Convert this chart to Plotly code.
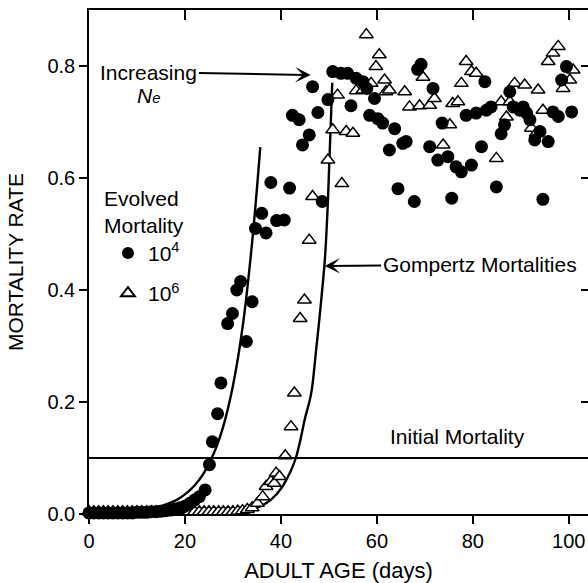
import plotly.graph_objects as go

# ---------------- data ----------------
age_1e4 = [0, 1, 2, 3, 4, 5, 6, 7, 8, 9, 10, 11, 12, 13, 14, 15, 16, 17, 18, 19, 20, 21, 22, 23,
           24.2, 25.1, 25.7, 26.8, 27.5, 28.9, 29.9, 30.8, 31.6, 32.8, 34.0, 34.7, 36.0, 36.9,
           37.9, 39.1, 40.7, 41.8, 42.4, 43.8, 44.5, 45.9, 46.6, 47.7, 48.6, 49.8, 50.8, 52.5,
           53.9, 54.6, 55.7, 57.1, 57.9, 58.5, 59.5, 60.2, 61.2, 62.6, 63.7, 64.4, 65.4, 66.1,
           67.8, 68.5, 69.2, 71.0, 71.7, 72.7, 73.6, 74.8, 75.6, 76.5, 77.6, 78.6, 79.7, 80.7,
           81.8, 82.5, 82.8, 83.8, 84.9, 85.9, 86.6, 87.7, 88.4, 89.8, 90.5, 91.2, 91.9, 92.9,
           94.0, 94.6, 95.7, 96.7, 97.8, 98.5, 99.5, 100.6]
mort_1e4 = [0.002, 0.002, 0.002, 0.002, 0.002, 0.002, 0.002, 0.002, 0.002, 0.002, 0.003, 0.003,
            0.003, 0.004, 0.004, 0.005, 0.006, 0.007, 0.009, 0.011, 0.014, 0.019, 0.025, 0.031,
            0.043, 0.088, 0.129, 0.179, 0.234, 0.340, 0.358, 0.400, 0.415, 0.308, 0.379, 0.510,
            0.537, 0.502, 0.592, 0.524, 0.525, 0.582, 0.712, 0.704, 0.659, 0.677, 0.763, 0.717,
            0.558, 0.740, 0.790, 0.787, 0.787, 0.729, 0.778, 0.772, 0.760, 0.712, 0.742, 0.706,
            0.698, 0.650, 0.688, 0.581, 0.662, 0.665, 0.558, 0.794, 0.803, 0.656, 0.760, 0.632,
            0.698, 0.638, 0.564, 0.620, 0.611, 0.712, 0.623, 0.716, 0.656, 0.772, 0.721, 0.727,
            0.584, 0.679, 0.695, 0.754, 0.727, 0.721, 0.727, 0.716, 0.704, 0.668, 0.683, 0.562,
            0.665, 0.718, 0.710, 0.775, 0.799, 0.718]

age_1e6 = [0, 1, 2, 3, 4, 5, 6, 7, 8, 9, 10, 11, 12, 13, 14, 15, 16, 17, 18, 19, 20, 21, 22, 23,
           24, 25, 26, 27, 28, 29, 30, 31, 32, 33, 34,
           35.1, 36.2, 36.9, 37.9, 38.6, 39.0, 39.7, 40.9, 42.1, 42.8, 44.0, 44.9, 45.9, 46.6,
           49.8, 50.8, 51.8, 52.7, 53.6, 55.0, 55.7, 57.1, 57.8, 58.8, 59.8, 60.5, 61.6, 61.9,
           62.6, 65.8, 66.8, 68.9, 69.6, 71.0, 72.0, 73.8, 75.2, 75.8, 76.9, 77.6, 78.6, 79.7,
           80.7, 84.9, 85.9, 87.0, 87.7, 88.7, 90.8, 92.2, 93.2, 93.6, 94.6, 95.7, 96.7, 97.8,
           98.8, 100.2, 100.9]
mort_1e6 = [0.004, 0.004, 0.004, 0.004, 0.004, 0.004, 0.004, 0.004, 0.004, 0.004, 0.004, 0.004,
            0.004, 0.004, 0.004, 0.004, 0.004, 0.004, 0.004, 0.004, 0.004, 0.004, 0.004, 0.004,
            0.004, 0.004, 0.004, 0.004, 0.004, 0.004, 0.004, 0.005, 0.006, 0.008, 0.011,
            0.019, 0.031, 0.049, 0.058, 0.055, 0.073, 0.067, 0.104, 0.156, 0.216, 0.349, 0.382,
            0.489, 0.567, 0.632, 0.686, 0.748, 0.590, 0.683, 0.680, 0.756, 0.757, 0.856, 0.769,
            0.799, 0.820, 0.775, 0.754, 0.757, 0.754, 0.727, 0.729, 0.780, 0.730, 0.742, 0.659,
            0.695, 0.733, 0.736, 0.769, 0.808, 0.790, 0.787, 0.635, 0.736, 0.709, 0.736, 0.769,
            0.766, 0.689, 0.680, 0.757, 0.721, 0.808, 0.823, 0.835, 0.760, 0.775, 0.793]

gomp_1e4_age = [0, 5, 10, 15, 18, 20, 22, 24, 26, 28, 30, 32, 34, 35.7]
gomp_1e4_mort = [0.001, 0.002, 0.005, 0.014, 0.024, 0.035, 0.051, 0.074, 0.108, 0.157, 0.229,
                 0.333, 0.485, 0.655]

gomp_1e6_age = [0, 20, 30, 34, 36, 38, 40, 42, 43.1, 44, 45, 46.3, 47.3, 48.4, 49.2, 49.8, 50.7]
gomp_1e6_mort = [0.0, 0.0003, 0.003, 0.009, 0.015, 0.026, 0.045, 0.076, 0.100, 0.130, 0.170,
                 0.215, 0.290, 0.382, 0.460, 0.560, 0.770]

initial_age = [0, 104]
initial_mort = [0.1, 0.1]

x_ticks = [0, 20, 40, 60, 80, 100]
y_ticks = [0.0, 0.2, 0.4, 0.6, 0.8]
y_ticktext = ["0.0", "0.2", "0.4", "0.6", "0.8"]

# ---------------- figure ----------------
FONT = "Liberation Sans, Arial, Helvetica, sans-serif"
X_RANGE = [0, 104]
Y_RANGE = [0, 0.9]

fig = go.Figure()

fig.add_trace(go.Scatter(x=gomp_1e4_age, y=gomp_1e4_mort, mode="lines",
                         line=dict(color="black", width=2.4, shape="spline"),
                         showlegend=False, hoverinfo="skip"))
fig.add_trace(go.Scatter(x=gomp_1e6_age, y=gomp_1e6_mort, mode="lines",
                         line=dict(color="black", width=2.4, shape="spline"),
                         showlegend=False, hoverinfo="skip"))
fig.add_trace(go.Scatter(x=initial_age, y=initial_mort, mode="lines",
                         line=dict(color="black", width=1.8),
                         xaxis="x2", yaxis="y2",
                         showlegend=False, hoverinfo="skip"))

fig.add_trace(go.Scatter(x=age_1e6, y=mort_1e6, mode="markers", name="10<sup>6</sup>",
                         marker=dict(symbol="triangle-up", size=12, color="white",
                                     line=dict(color="black", width=1.5)),
                         cliponaxis=False, legendgroup="b", legendrank=2))
fig.add_trace(go.Scatter(x=age_1e4, y=mort_1e4, mode="markers", name="10<sup>4</sup>",
                         marker=dict(symbol="circle", size=13, color="black",
                                     line=dict(color="black", width=0)),
                         cliponaxis=False, legendgroup="a", legendrank=1))

axis_common = dict(showgrid=False, zeroline=False, linecolor="black", linewidth=1.5,
                   tickcolor="black", tickwidth=1.5)

fig.update_layout(
    width=588, height=583,
    margin=dict(l=89, r=0, t=10, b=69),
    plot_bgcolor="white", paper_bgcolor="white",
    font=dict(family=FONT, size=21, color="black"),
    xaxis=dict(range=X_RANGE, tickvals=x_ticks, ticks="outside", ticklen=8,
               showline=True, tickfont=dict(size=20),
               title=dict(text="ADULT AGE (days)", font=dict(size=22), standoff=14),
               **axis_common),
    yaxis=dict(range=Y_RANGE, tickvals=y_ticks, ticktext=y_ticktext, ticks="outside",
               ticklen=8, showline=True, tickfont=dict(size=20),
               title=dict(text="MORTALITY RATE", font=dict(size=21), standoff=18),
               **axis_common),
    xaxis2=dict(range=X_RANGE, tickvals=x_ticks, ticks="inside", ticklen=10,
                overlaying="x", side="top", anchor="y2", showline=True,
                showticklabels=False, **axis_common),
    yaxis2=dict(range=Y_RANGE, tickvals=y_ticks, ticks="inside", ticklen=7,
                overlaying="y", side="right", anchor="x2", showline=False,
                showticklabels=False, **axis_common),
    legend=dict(x=0.038, y=0.558, xanchor="left", yanchor="top",
                bgcolor="rgba(0,0,0,0)", font=dict(size=21),
                tracegroupgap=10, itemsizing="constant"),
    showlegend=True,
)

arrow_common = dict(showarrow=True, arrowhead=3, arrowwidth=2, arrowsize=1.3,
                    arrowcolor="black", axref="x", ayref="y", xref="x", yref="y",
                    font=dict(size=21))

fig.add_annotation(text="Increasing", x=46.2, y=0.784, ax=12.5, ay=0.789, **arrow_common)
fig.add_annotation(text="<i>N<span style='font-size:15px'>e</span></i>", x=12.5, y=0.748,
                   xref="x", yref="y", showarrow=False, font=dict(size=21))
fig.add_annotation(text="Gompertz Mortalities", x=49.1, y=0.443, ax=81.4, ay=0.445,
                   **arrow_common)
fig.add_annotation(text="Initial Mortality", x=76.8, y=0.139, xref="x", yref="y",
                   showarrow=False, font=dict(size=21))
fig.add_annotation(text="Evolved<br>Mortality", x=0.026, y=0.600, xref="paper", yref="paper",
                   xanchor="left", yanchor="middle", align="left", showarrow=False,
                   font=dict(size=21))

fig.write_html("out.html")
